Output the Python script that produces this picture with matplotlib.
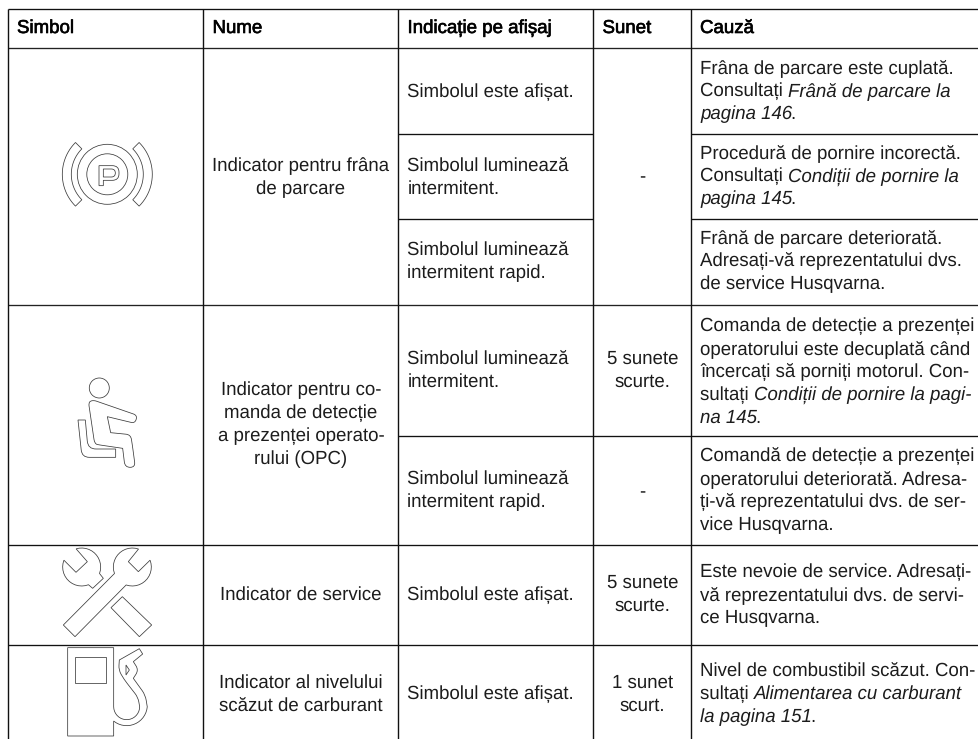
import matplotlib
matplotlib.use("Agg")
import matplotlib.pyplot as plt
import matplotlib.patheffects as pe
from matplotlib.font_manager import FontProperties
from matplotlib.path import Path
from matplotlib.patches import PathPatch, Circle
import numpy as np

plt.rcParams['font.family'] = ['Liberation Sans', 'DejaVu Sans']
plt.rcParams['text.hinting'] = 'no_hinting'

# ---- content ----
headers = ["Simbol", "Nume", "Indicație pe afișaj", "Sunet", "Cauză"]
names = [
    ["Indicator pentru frâna", "de parcare"],
    ["Indicator pentru co-", "manda de detecție", "a prezenței operato-", "rului (OPC)"],
    ["Indicator de service"],
    ["Indicator al nivelului", "scăzut de carburant"],
]
indications = [
    ["Simbolul este afișat."],
    ["Simbolul luminează", "intermitent."],
    ["Simbolul luminează", "intermitent rapid."],
    ["Simbolul luminează", "intermitent."],
    ["Simbolul luminează", "intermitent rapid."],
    ["Simbolul este afișat."],
    ["Simbolul este afișat."],
]
sounds = [
    ["-"],
    ["5 sunete", "scurte."],
    ["-"],
    ["5 sunete", "scurte."],
    ["1 sunet", "scurt."],
]
causes = [
    ["Frâna de parcare este cuplată.", "Consultați *Frână de parcare la*", "*pagina 146*."],
    ["Procedură de pornire incorectă.", "Consultați *Condiții de pornire la*", "*pagina 145*."],
    ["Frână de parcare deteriorată.", "Adresați-vă reprezentatului dvs.", "de service Husqvarna."],
    ["Comanda de detecție a prezenței", "operatorului este decuplată când", "încercați să porniți motorul. Con-",
     "sultați *Condiții de pornire la pagi-*", "*na 145*."],
    ["Comandă de detecție a prezenței", "operatorului deteriorată. Adresa-", "ți-vă reprezentatului dvs. de ser-",
     "vice Husqvarna."],
    ["Este nevoie de service. Adresați-", "vă reprezentatului dvs. de servi-", "ce Husqvarna."],
    ["Nivel de combustibil scăzut. Con-", "sultați *Alimentarea cu carburant*", "*la pagina 151*."],
]

# ---- layout (pixels) ----
W, H = 979, 739
col_x = [8.5, 203.5, 398.5, 593.5, 691.0]
name_base = [170.7, 395, 600.3, 688.3]
ind_base = [96.7, 170.7, 255.3, 364, 484.3, 600.3, 699.3]
snd_base = [182, 364, 497, 588.3, 688.3]
cause_base = [72.7, 158.3, 242.7, 330.7, 461.3, 577.3, 676]
LEAD = 23.0
FS = 13.44
TXT = "#1c1c1c"
ICON = "#3a3a3a"
ILW = 0.55

fig = plt.figure(figsize=(W / 100, H / 100), dpi=100, facecolor="white")
ax = fig.add_axes([0, 0, 1, 1])
ax.set_xlim(0, W)
ax.set_ylim(H, 0)
ax.axis("off")
renderer = fig.canvas.get_renderer()


def hl(y, x0=col_x[0], x1=W, c="#222222", lw=0.95):
    ax.plot([x0, x1], [y, y], color=c, lw=lw, solid_capstyle="butt")


def vl(x, y0=8.5, y1=H, lw=1.0):
    ax.plot([x, x], [y0, y1], color="#111111", lw=lw, solid_capstyle="butt")


# grid
hl(8.5, c="#111111")
hl(48)
hl(304.8)
hl(545, c="#111111")
hl(644.8, c="#111111")
hl(133.5, col_x[2], col_x[3], c="#111111")
hl(219, col_x[2], col_x[3], c="#111111")
hl(133.5, col_x[4], W, c="#111111")
hl(219, col_x[4], W, c="#111111")
hl(436, col_x[2], W, c="#111111")
for x in col_x:
    vl(x)

# header
stroke = [pe.withStroke(linewidth=0.45, foreground="black")]
head_x = [17, 212.5, 407.5, 602.5, 700]
for x, s in zip(head_x, headers):
    ax.text(x, 33, s, fontsize=FS, color="black", ha="left", va="baseline", path_effects=stroke)


def block(lines, x, y0, ha="left"):
    for i, s in enumerate(lines):
        ax.text(x, y0 + i * LEAD, s, fontsize=FS, color=TXT, ha=ha, va="baseline")


def advance(s, style):
    fp = FontProperties(family="Liberation Sans", style=style, size=FS)
    w1 = renderer.get_text_width_height_descent("|" + s + "|", fp, False)[0]
    w0 = renderer.get_text_width_height_descent("||", fp, False)[0]
    return w1 - w0


def rich_line(line, x, y):
    parts = line.split("*")
    for i, seg in enumerate(parts):
        if not seg:
            continue
        style = "italic" if i % 2 else "normal"
        ax.text(x, y, seg, fontsize=FS, color=TXT, style=style, ha="left", va="baseline")
        x += advance(seg, style) - (1.5 if i % 2 else 0)


for lines, y in zip(names, name_base):
    block(lines, (col_x[1] + col_x[2]) / 2, y, "center")
for lines, y in zip(indications, ind_base):
    block(lines, 407.5, y)
for lines, y in zip(sounds, snd_base):
    block(lines, (col_x[3] + col_x[4]) / 2, y, "center")
for lines, y0 in zip(causes, cause_base):
    for i, l in enumerate(lines):
        rich_line(l, 700, y0 + i * LEAD)


# ---- icons ----
def arc(cx, cy, r, a0, a1, n=14):
    t = np.radians(np.linspace(a0, a1, n))
    return [(cx + r * np.cos(a), cy + r * np.sin(a)) for a in t]


def shape(pts, y0=0.0, k=1 / 3):
    """Closed outline; each point is (x, y[, corner radius]) in 3x units."""
    n = len(pts)
    verts, codes = [], []
    for i in range(n):
        p = np.array(pts[i][:2], float)
        r = pts[i][2] if len(pts[i]) > 2 else 0
        a = np.array(pts[i - 1][:2], float)
        b = np.array(pts[(i + 1) % n][:2], float)
        da, db = a - p, b - p
        la, lb = np.hypot(*da), np.hypot(*db)
        if r > 0:
            s0 = p + da / la * min(r, la / 2)
            s1 = p + db / lb * min(r, lb / 2)
            verts += [s0, p, s1]
            codes += [Path.LINETO, Path.CURVE3, Path.CURVE3]
        else:
            verts.append(p)
            codes.append(Path.LINETO)
    codes[0] = Path.MOVETO
    verts.append(verts[0])
    codes.append(Path.CLOSEPOLY)
    v = np.array(verts) * k + np.array([0.0, y0])
    ax.add_patch(PathPatch(Path(v, codes), fc="none", ec=ICON, lw=ILW))


# parking brake
cx, cy = 107.3, 174.3
ax.add_patch(Circle((cx, cy), 30, fc="none", ec=ICON, lw=ILW))
ax.add_patch(Circle((cx, cy), 20.5, fc="none", ec=ICON, lw=ILW))
shape([(297, 497), (357, 497, 20), (357, 541, 20), (310, 541), (310, 557), (297, 557)])
shape([(310, 507), (346, 507, 12), (346, 531, 12), (310, 531)])
for sign in (-1, 1):
    t = np.radians(np.linspace(-45, 45, 25))
    outer = np.c_[cx + sign * 45 * np.cos(t), cy + 45 * np.sin(t)]
    inner = np.c_[cx + sign * 36 * np.cos(t[::-1]), cy + 36 * np.sin(t[::-1])]
    ax.add_patch(plt.Polygon(np.r_[outer, inner], closed=True, fc="none", ec=ICON, lw=ILW))

# operator
ax.add_patch(Circle((99.3, 388), 10, fc="none", ec=ICON, lw=ILW))
shape([(272, 332, 12), (285, 332, 4), (412, 376, 12), (405, 400, 12), (322, 380), (332, 428), (392, 434, 14),
       (397, 465, 14), (406, 532, 16), (375, 532, 16), (368, 475), (300, 465, 4), (284, 462, 14), (266, 340, 8)], 290)
shape([(234, 390), (256, 390), (264, 477, 24), (347, 477), (347, 502), (246, 502, 22)], 290)

# service
shape([(190, 1005)] + arc(397, 831, 57, 160, 289) + [(385, 815), (415, 845)]
      + arc(397, 831, 57, -21, 109) + [(225, 1040)], 290)
shape(arc(245, 831, 57, -107, 20) + [(310, 865), (278, 895)]
      + arc(245, 831, 57, 69, 201) + [(228, 847), (262, 815)], 290)
shape([(367, 920), (455, 1005), (418, 1040), (333, 953)], 290)

# fuel
shape([(203, 1073), (341, 1073)] + arc(380, 1250, 39, 180, 0, 18)
      + [(414, 1222, 14), (372, 1168, 16), (356, 1140, 14), (358, 1110), (418, 1076), (428, 1092), (400, 1115),
         (416, 1140, 16), (400, 1165), (436, 1215, 16)]
      + arc(380, 1245, 62, 5, 129, 16) + [(341, 1338), (203, 1338)], 290)
shape([(226, 1100), (319, 1100), (319, 1180), (226, 1180)], 290)
shape([(378, 1125), (388, 1140), (378, 1155)], 290)

fig.savefig("out.png", dpi=100, facecolor="white")
